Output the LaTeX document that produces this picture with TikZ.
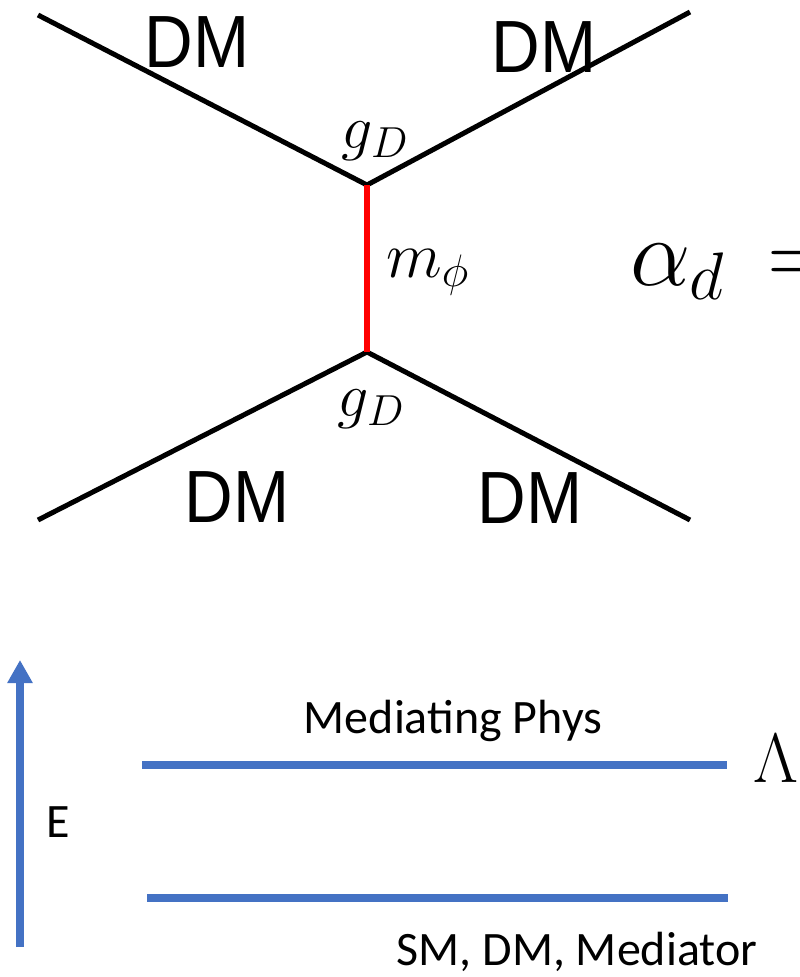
\RequirePackage{fix-cm}
\documentclass[tikz,border=0pt]{standalone}
\usepackage[no-math]{fontspec}
\newfontfamily\arialf{Liberation Sans}
\newfontfamily\calf{Carlito}
\usetikzlibrary{arrows.meta}
\definecolor{eblue}{HTML}{4472C4}
\tikzset{ln/.style={line width=5pt},med/.style={line width=6pt,red},
 lvl/.style={line width=8pt,eblue},ar/.style={-{Triangle[length=23pt,width=24pt]},line width=8pt,eblue},
 dm/.style={font=\arialf\fontsize{74}{80}\selectfont,anchor=base,inner sep=0pt,xscale=0.91},
 cpl/.style={font=\fontsize{62}{66}\selectfont,inner sep=0pt},
 lb/.style={font=\calf\fontsize{48}{52}\selectfont,anchor=base,inner sep=0pt}}

\begin{document}
\begin{tikzpicture}[x=1pt,y=-1pt]
\useasboundingbox (0,0) rectangle (800,977);
% diagram
\coordinate (v1) at (367,185);\coordinate (v2) at (367,352);
\coordinate (tl) at (38,15);\coordinate (tr) at (690,12);\coordinate (bl) at (38,520);\coordinate (br) at (690,520);
\draw[ln](tl)--(v1)--(tr);\draw[ln](bl)--(v2)--(br);\draw[med](v1)--(v2);
\node[dm](dmtl) at (197,67){DM};\node[dm](dmtr) at (544,72){DM};
\node[dm](dmbl) at (237,522){DM};\node[dm](dmbr) at (530,523){DM};
\node[cpl](gtop) at (375,141){$g_D$};\node[cpl](gbot) at (371,409){$g_D$};
\node[cpl,anchor=base west,font=\fontsize{65}{70}\selectfont](mphi) at (386,277){$m_\phi$};
\node[cpl,anchor=base west,font=\fontsize{96}{100}\selectfont](alpha) at (630,285){$\alpha_d\,=$};
% energy scale
\coordinate (eb) at (20,947);\coordinate (et) at (20,660);
\draw[ar](eb)--(et);
\coordinate (l1a) at (142,765);\coordinate (l1b) at (727,765);\coordinate (l2a) at (147,898);\coordinate (l2b) at (728,898);
\draw[lvl](l1a)--(l1b);\draw[lvl](l2a)--(l2b);
\node[lb](med) at (453,733){Mediating Phys};\node[lb](e) at (58,837){E};
\node[lb](low) at (577,965){SM, DM, Mediator};
\node[cpl,anchor=base,font=\fontsize{70}{80}\selectfont](lam) at (776,782){$\Lambda$};
\end{tikzpicture}
\end{document}
